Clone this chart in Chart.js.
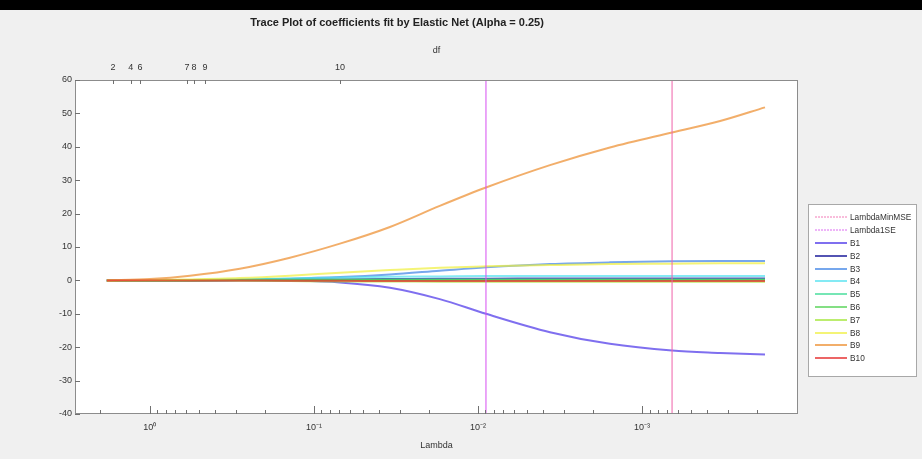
<!DOCTYPE html>
<html>
<head>
<meta charset="utf-8">
<script src="https://cdn.jsdelivr.net/npm/chart.js@4.4.1/dist/chart.umd.min.js"></script>
<style>
  html, body { margin: 0; padding: 0; background: #f0f0f0; }
  #wrap { position: relative; width: 922px; height: 459px; overflow: hidden; font-family: "Liberation Sans", Arial, sans-serif; }
  #band { position: absolute; left: 0; top: 0; width: 922px; height: 10px; background: #000; }
  #title { position: absolute; left: 147px; width: 500px; top: 16px; text-align: center; font-weight: bold; font-size: 11px; color: #222; }
  #legend { position: absolute; left: 808px; top: 204px; width: 109px; height: 173px; background: #fff; border: 1px solid #a8a8a8; box-sizing: border-box; padding-top: 6px; }
  .item { height: 12.8px; display: flex; align-items: center; font-size: 8.3px; color: #333; white-space: nowrap; }
  .swatch { width: 32px; margin-left: 6px; margin-right: 3px; }
  canvas { position: absolute; left: 0; top: 0; }
</style>
</head>
<body>
<div id="wrap">
  <canvas id="chart" width="922" height="459"></canvas>
  <div id="band"></div>
  <div id="title">Trace Plot of coefficients fit by Elastic Net (Alpha = 0.25)</div>
  <div id="legend"></div>
</div>
<script>
// lambda values where the traces are sampled (x axis, log, reversed)
const lambdas = [1.83, 1.0, 0.57, 0.283, 0.14, 0.0694, 0.0344, 0.0171, 0.00894, 0.00364, 0.00157, 0.000656, 0.000334, 0.000178];

const coefNames = ['B1', 'B2', 'B3', 'B4', 'B5', 'B6', 'B7', 'B8', 'B9', 'B10'];
const B1 = [0, 0, 0, 0, -0.1, -0.6, -2.2, -5.6, -10, -15.5, -19, -21, -21.7, -22.2];
const B2 = [0, 0, 0, 0.1, 0.2, 0.3, 0.4, 0.5, 0.5, 0.6, 0.6, 0.6, 0.6, 0.6];
const B3 = [0, 0, 0.1, 0.2, 0.5, 1.0, 1.8, 2.9, 3.9, 4.9, 5.4, 5.7, 5.8, 5.8];
const B4 = [0, 0, 0.1, 0.3, 0.6, 0.9, 1.1, 1.2, 1.3, 1.3, 1.3, 1.3, 1.3, 1.3];
const B5 = [0, 0, 0.1, 0.2, 0.3, 0.3, 0.3, 0.3, 0.3, 0.3, 0.3, 0.3, 0.3, 0.3];
const B6 = [0, 0, 0, 0.1, 0.1, 0.1, 0.1, 0.1, 0.1, 0.1, 0.1, 0.1, 0.1, 0.1];
const B7 = [0, 0, 0, -0.1, -0.2, -0.3, -0.3, -0.4, -0.4, -0.4, -0.4, -0.4, -0.4, -0.4];
const B8 = [0, 0.1, 0.3, 0.7, 1.4, 2.3, 3.1, 3.8, 4.2, 4.6, 4.9, 5.0, 5.1, 5.1];
const B9 = [0, 0.4, 1.4, 3.5, 6.8, 11, 16, 22.3, 27.8, 34.5, 39.8, 44.3, 47.7, 51.8];
const B10 = [0, 0, 0, 0, -0.1, -0.1, -0.2, -0.2, -0.2, -0.2, -0.2, -0.2, -0.2, -0.2];
const coefValues = [B1, B2, B3, B4, B5, B6, B7, B8, B9, B10];
const coefColors = [
  'rgba(95,75,235,0.8)', 'rgba(40,40,160,0.8)', 'rgba(60,130,230,0.7)', 'rgba(80,225,240,0.7)',
  'rgba(60,220,150,0.7)', 'rgba(80,210,80,0.7)', 'rgba(160,230,50,0.7)', 'rgba(240,240,60,0.7)',
  'rgba(240,160,80,0.85)', 'rgba(230,50,50,0.75)'
];

// vertical markers
const lambdaMinMSE = 0.000656;
const lambda1SE = 0.00894;

// y axis
const yMin = -40, yMax = 60, yStep = 10;
// x axis range
const xMin = 1.12e-4, xMax = 2.86;

// top axis: degrees of freedom
const dfLambdas = [1.68, 1.31, 1.15, 0.594, 0.539, 0.462, 0.0694];
const dfLabels = ['2', '4', '6', '7', '8', '9', '10'];

const supers = { '0': '\u2070', '1': '\u00b9', '2': '\u00b2', '3': '\u00b3', '-': '\u207b' };
function powLabel(v) {
  const e = Math.round(Math.log10(v));
  if (Math.abs(Math.log10(v) - e) > 1e-6) return '';
  return '10' + String(e).split('').map(c => supers[c]).join('');
}

const datasets = [
  { label: 'LambdaMinMSE', data: [{ x: lambdaMinMSE, y: yMin }, { x: lambdaMinMSE, y: yMax }], borderColor: 'rgba(240,100,170,0.85)', borderWidth: 1.2, order: 0, legendDash: [2, 1] },
  { label: 'Lambda1SE', data: [{ x: lambda1SE, y: yMin }, { x: lambda1SE, y: yMax }], borderColor: 'rgba(215,80,240,0.85)', borderWidth: 1.2, order: 0, legendDash: [2, 1] }
];
coefNames.forEach((name, i) => {
  datasets.push({
    label: name,
    data: lambdas.map((l, j) => ({ x: l, y: coefValues[i][j] })),
    borderColor: coefColors[i],
    borderWidth: 2,
    order: coefNames.length - i,
    cubicInterpolationMode: 'monotone'
  });
});

const font = { family: '"Liberation Sans", Arial, sans-serif', size: 9 };

const framePlugin = {
  id: 'frame',
  beforeDatasetsDraw(chart) {
    const { ctx, chartArea: a } = chart;
    ctx.save();
    ctx.fillStyle = '#fff';
    ctx.fillRect(a.left, a.top, a.right - a.left, a.bottom - a.top);
    ctx.restore();
  },
  afterDraw(chart) {
    const { ctx, chartArea: a, scales } = chart;
    ctx.save();
    ctx.strokeStyle = '#8c8c8c';
    ctx.lineWidth = 1;
    ctx.strokeRect(a.left + 0.5, a.top + 0.5, a.right - a.left - 1, a.bottom - a.top - 1);
    ctx.strokeStyle = '#707070';
    ctx.beginPath();
    scales.y.ticks.forEach(t => {
      const py = Math.round(scales.y.getPixelForValue(t.value)) + 0.5;
      ctx.moveTo(a.left, py); ctx.lineTo(a.left + 5, py);
    });
    scales.x.ticks.forEach(t => {
      const px = Math.round(scales.x.getPixelForValue(t.value)) + 0.5;
      const len = powLabel(t.value) ? 8 : 4;
      ctx.moveTo(px, a.bottom); ctx.lineTo(px, a.bottom - len);
    });
    scales.x2.ticks.forEach(t => {
      const px = Math.round(scales.x2.getPixelForValue(t.value)) + 0.5;
      ctx.moveTo(px, a.top); ctx.lineTo(px, a.top + 4);
    });
    ctx.stroke();
    ctx.restore();
  }
};

const chart = new Chart(document.getElementById('chart'), {
  type: 'line',
  data: { datasets },
  options: {
    responsive: false,
    animation: false,
    events: [],
    elements: { point: { radius: 0 } },
    layout: { padding: { left: 55, right: 124, top: 36, bottom: 5 } },
    plugins: { legend: { display: false }, tooltip: { enabled: false } },
    scales: {
      x: {
        type: 'logarithmic', position: 'bottom', reverse: true, min: xMin, max: xMax,
        grid: { display: false, drawTicks: false },
        border: { display: false },
        afterBuildTicks(scale) {
          const ticks = [];
          for (let e = -4; e <= 0; e++) {
            for (let k = 1; k <= 9; k++) {
              const v = k * Math.pow(10, e);
              if (v >= xMin && v <= xMax) ticks.push({ value: v });
            }
          }
          scale.ticks = ticks;
        },
        afterFit(scale) { scale.height = 40; },
        ticks: { autoSkip: false, maxRotation: 0, padding: 8, color: '#333', font, callback: v => powLabel(v) },
        title: { display: true, text: 'Lambda', color: '#333', font, padding: { top: 0, bottom: 3 } }
      },
      x2: {
        type: 'logarithmic', position: 'top', reverse: true, min: xMin, max: xMax,
        grid: { display: false, drawTicks: false },
        border: { display: false },
        afterBuildTicks(scale) { scale.ticks = dfLambdas.map(v => ({ value: v })); },
        afterFit(scale) { scale.height = 44; },
        ticks: { autoSkip: false, maxRotation: 0, padding: 7, color: '#333', font, callback: (v, i) => dfLabels[i] },
        title: { display: true, text: 'df', color: '#333', font, padding: { top: 9, bottom: 0 } }
      },
      y: {
        min: yMin, max: yMax,
        grid: { display: false, drawTicks: false },
        border: { display: false },
        afterFit(scale) { scale.width = 20; },
        ticks: { stepSize: yStep, padding: 3, color: '#333', font }
      }
    }
  },
  plugins: [framePlugin]
});

// legend box built from the chart's datasets
const legend = document.getElementById('legend');
chart.data.datasets.forEach(ds => {
  const row = document.createElement('div');
  row.className = 'item';
  const sw = document.createElement('canvas');
  sw.className = 'swatch';
  sw.width = 32; sw.height = 6;
  sw.style.position = 'static';
  const c = sw.getContext('2d');
  c.strokeStyle = ds.borderColor;
  c.lineWidth = ds.legendDash ? 1 : 2;
  if (ds.legendDash) c.setLineDash(ds.legendDash);
  c.beginPath(); c.moveTo(0, 3); c.lineTo(32, 3); c.stroke();
  row.appendChild(sw);
  const t = document.createElement('span');
  t.textContent = ds.label;
  row.appendChild(t);
  legend.appendChild(row);
});
</script>
</body>
</html>
